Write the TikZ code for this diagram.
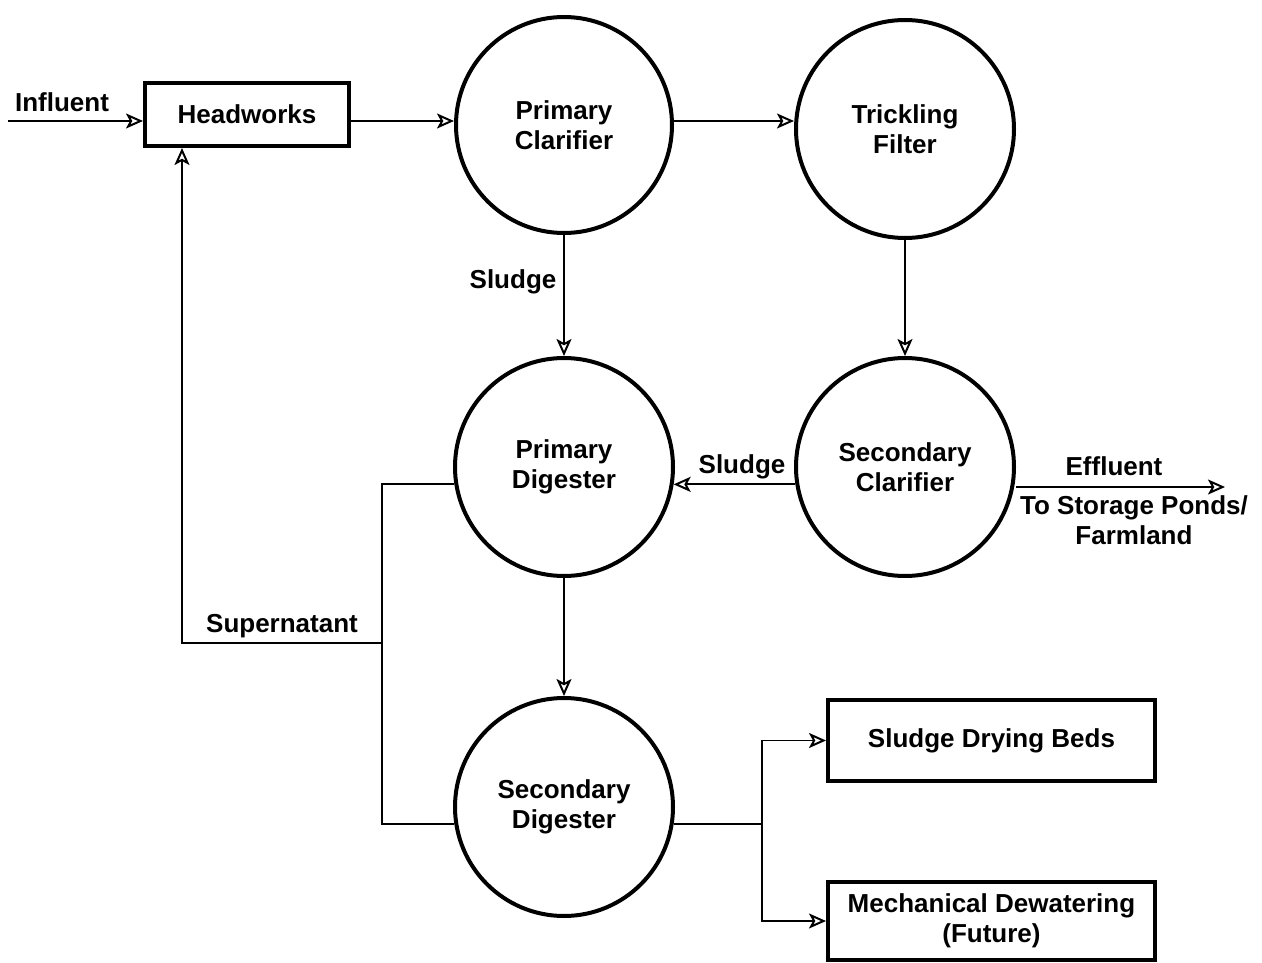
\documentclass[tikz,border=0pt]{standalone}
\usepackage{fontspec}
\setmainfont{Liberation Sans}
\usetikzlibrary{arrows.meta,calc}
\tikzset{
  unit/.style={draw, circle, line width=4pt, minimum size=218pt, inner sep=0pt, align=center},
  boxnode/.style={draw, rectangle, line width=4pt, inner sep=0pt, align=center},
  conn/.style={line width=1.8pt},
  arr/.style={conn, -{Stealth[open, length=17pt, width=15pt, inset=4pt, line width=2pt]}},
  lbl/.style={inner sep=0pt, align=center}
}
\begin{document}
\begin{tikzpicture}[x=1pt, y=-1pt, font=\fontsize{26}{30}\selectfont\bfseries]
\useasboundingbox (0,0) rectangle (1262,963);
% nodes
\node[boxnode, minimum width=204pt, minimum height=63pt] (hw) at (247,114.5) {Headworks};
\node[unit, minimum size=216pt] (pc) at (564,125) {Primary\\Clarifier};
\node[unit] (tf) at (905,129) {Trickling\\Filter};
\node[unit] (sc) at (905,467) {Secondary\\Clarifier};
\node[unit] (pd) at (564,467) {Primary\\Digester};
\node[unit] (sd) at (564,807) {Secondary\\Digester};
\node[boxnode, minimum width=327pt, minimum height=81pt] (sdb) at (991.5,740.5) {Sludge Drying Beds};
\node[boxnode, minimum width=327pt, minimum height=78pt] (md) at (991.5,921) {Mechanical Dewatering\\(Future)};
% coordinates
\coordinate (infl) at (8,121);
\coordinate (jx) at (382,643);
\coordinate (hwin) at ($(hw.south west)+(39,0)$);
\coordinate (brx) at (762,0);
\coordinate (br) at (sd.351 -| brx);
\coordinate (eff) at (1225,487);
% connectors
\draw[arr] (infl) -- (hw.west |- infl);
\draw[arr] (hw.east |- infl) -- (pc.west |- infl);
\draw[arr] (pc.east |- infl) -- (tf.west |- infl);
\draw[arr] (tf.south) -- (sc.north);
\draw[arr] (pc.south) -- (pd.north);
\draw[arr] (sc.189) -- (pd.351);
\draw[arr] (pd.south) -- (sd.north);
\draw[conn] (pd.189) -| (jx) |- (sd.189);
\draw[arr] (jx) -| (hwin);
\draw[conn] (sd.351) -- (br);
\draw[arr] (br) |- (sdb.west);
\draw[arr] (br) |- (md.west);
\draw[arr] (sc.east |- eff) -- (eff);
% labels
\node[lbl] (l1) at (62,102) {Influent};
\node[lbl] (l2) at (513,282) {Sludge};
\node[lbl] (l3) at (742,467) {Sludge};
\node[lbl] (l4) at (282,626) {Supernatant};
\node[lbl] (l5) at (1114,466) {Effluent};
\node[lbl] (l6) at (1134,520) {To Storage Ponds/\\Farmland};
\end{tikzpicture}
\end{document}
